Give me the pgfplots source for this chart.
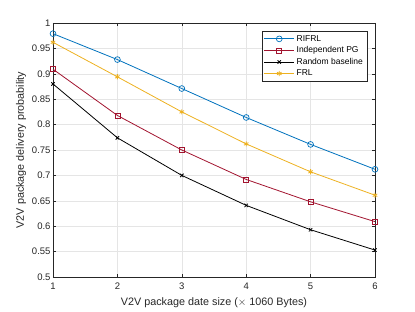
\documentclass[border=0pt]{standalone}
\usepackage{pgfplots}
\pgfplotsset{compat=1.18}
\usepackage{fontspec}
\setmainfont{Liberation Sans}
\definecolor{mblue}{rgb}{0,0.447,0.741}
\definecolor{mred}{rgb}{0.635,0.078,0.184}
\definecolor{myel}{rgb}{0.929,0.694,0.125}
\definecolor{axgray}{rgb}{0.15,0.15,0.15}
\begin{document}
\begin{tikzpicture}
\begin{axis}[
  scale only axis,
  width=322pt, height=254pt,
  xmin=1, xmax=6, ymin=0.5, ymax=1,
  xtick={1,2,3,4,5,6},
  ytick={0.5,0.55,0.6,0.65,0.7,0.75,0.8,0.85,0.9,0.95,1},
  yticklabels={0.5,0.55,0.6,0.65,0.7,0.75,0.8,0.85,0.9,0.95,1},
  grid=major,
  major grid style={gray!20, line width=0.4pt},
  axis line style={axgray, line width=0.4pt},
  tick style={axgray, line width=0.4pt},
  tick align=inside,
  major tick length=3pt,
  ticklabel style={font=\fontsize{9.5}{11}\selectfont, text=axgray},
  yticklabel style={xshift=1pt},
  xticklabel style={yshift=-2pt},
  /pgf/number format/assume math mode=true,
  xlabel={V2V package date size ($\times$ 1060 Bytes)},
  ylabel={V2V package delivery probability},
  label style={font=\fontsize{10.8}{12}\selectfont, text=axgray},
  xlabel style={yshift=-2pt},
  ylabel style={yshift=-1pt},
  legend style={at={(rel axis cs:1,1)}, anchor=north east, xshift=-8pt, yshift=-8pt,
    font=\fontsize{8.5}{10}\selectfont, draw=axgray, line width=0.4pt, inner sep=2pt,
    row sep=0pt, cells={anchor=west}},
  legend cell align=left,
  legend image code/.code={\draw[#1] (0pt,0pt) -- (30pt,0pt); \path[#1] plot coordinates {(15pt,0pt)};},
  every axis plot/.append style={line width=0.8pt},
]
\addplot[color=mblue, mark=o, mark size=2.9pt, mark options={line width=0.7pt}] coordinates {
(1,0.979) (2,0.928) (3,0.871) (4,0.814) (5,0.761) (6,0.712)};
\addlegendentry{RIFRL}
\addplot[color=mred, mark=square, mark size=2.5pt, mark options={line width=0.7pt}] coordinates {
(1,0.909) (2,0.818) (3,0.750) (4,0.692) (5,0.648) (6,0.609)};
\addlegendentry{Independent PG}
\addplot[color=black, mark=x, mark size=2.4pt, mark options={line width=0.8pt}] coordinates {
(1,0.880) (2,0.774) (3,0.700) (4,0.641) (5,0.593) (6,0.553)};
\addlegendentry{Random baseline}
\addplot[color=myel, mark=asterisk, mark size=2.6pt, mark options={line width=0.8pt}] coordinates {
(1,0.962) (2,0.894) (3,0.825) (4,0.762) (5,0.707) (6,0.661)};
\addlegendentry{FRL}
\end{axis}
\path (current axis.south west) ++(-53pt,-35pt) coordinate (bl);
\path (current axis.north east) ++(40pt,23pt) coordinate (tr);
\useasboundingbox (bl) rectangle (tr);
\end{tikzpicture}
\end{document}
